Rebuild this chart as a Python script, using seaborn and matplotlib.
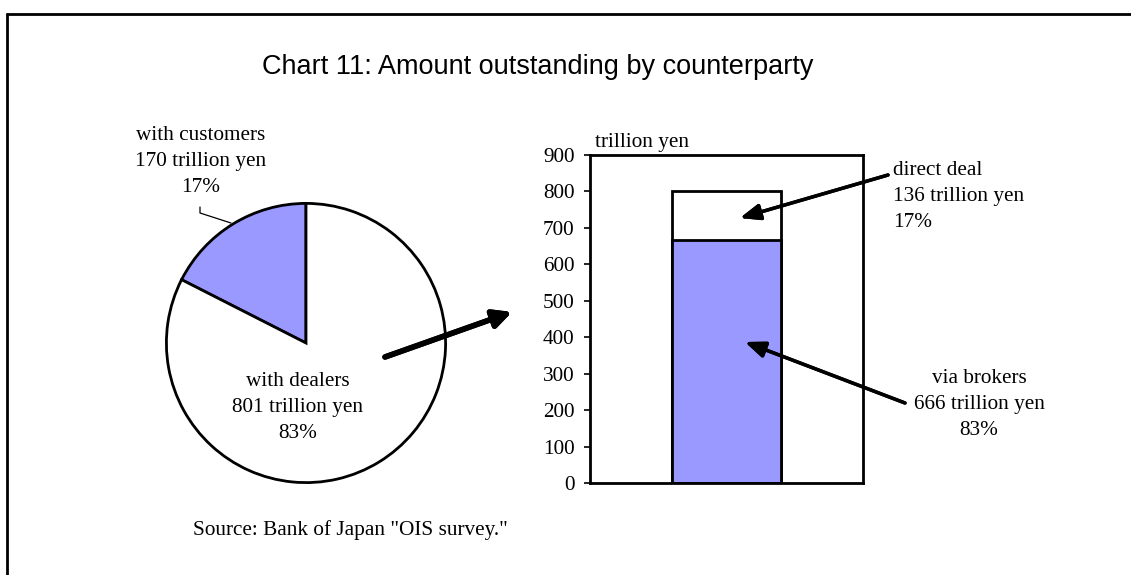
import matplotlib
matplotlib.use("Agg")
import matplotlib.pyplot as plt
import seaborn as sns
import pandas as pd
from matplotlib.lines import Line2D

# data
pie_labels = ["with customers", "with dealers"]
pie_values = [170, 801]
pie_shares = ["17%", "83%"]

bar_labels = ["via brokers", "direct deal"]
bar_values = [666, 136]
bar_shares = ["83%", "17%"]

y_ticks = [0, 100, 200, 300, 400, 500, 600, 700, 800, 900]

title = "Chart 11: Amount outstanding by counterparty"
source = 'Source: Bank of Japan "OIS survey."'
unit = "trillion yen"

LAV = "#9999FF"
W, H = 1131, 575

sns.set_theme(style="white")
plt.rcParams["font.family"] = ["Liberation Serif", "DejaVu Serif"]
plt.rcParams["text.color"] = "black"
FS = 15.3
LS = 1.5


def fx(x):
    return x / W


def fy(y):
    return 1 - y / H


fig = plt.figure(figsize=(W / 100, H / 100), dpi=100)

# frame (top and left edges only)
fig.add_artist(Line2D([fx(7), fx(7)], [fy(14), 0], transform=fig.transFigure, color="black", lw=2))
fig.add_artist(Line2D([fx(7), 1], [fy(14), fy(14)], transform=fig.transFigure, color="black", lw=2))

fig.text(fx(538), fy(67), title, ha="center", va="center", fontsize=19.5,
         family=["Liberation Sans", "DejaVu Sans"])

# pie
ax_pie = fig.add_axes([fx(165), fy(484), 282 / W, 282 / H])
ax_pie.pie(pie_values, startangle=90, counterclock=True, colors=[LAV, "white"],
           wedgeprops=dict(edgecolor="black", linewidth=2))
ax_pie.set_xlim(-1.01, 1.01)
ax_pie.set_ylim(-1.01, 1.01)
ax_pie.set_aspect("auto")
ax_pie.axis("off")

# multi-line text: baseline refers to the last line
cust_txt = f"{pie_labels[0]}\n{pie_values[0]} trillion yen\n{pie_shares[0]}"
deal_txt = f"{pie_labels[1]}\n{pie_values[1]} trillion yen\n{pie_shares[1]}"
fig.text(fx(201), fy(192), cust_txt, ha="center", va="baseline", fontsize=FS,
         multialignment="center", linespacing=LS)
fig.text(fx(298), fy(438), deal_txt, ha="center", va="baseline", fontsize=FS,
         multialignment="center", linespacing=LS)
fig.add_artist(Line2D([fx(200), fx(200), fx(231)], [fy(207), fy(213), fy(223)],
                      transform=fig.transFigure, color="black", lw=0.9))

# big arrow from pie to bar
fig.add_artist(plt.annotate("", xy=(fx(512), fy(312)), xytext=(fx(385), fy(357)),
                            xycoords="figure fraction", textcoords="figure fraction",
                            arrowprops=dict(arrowstyle="-|>,head_length=0.9,head_width=0.45",
                                            color="black", lw=4, shrinkA=0, shrinkB=0)))

# stacked bar
ax_bar = fig.add_axes([fx(590), fy(483), 273 / W, 328 / H])
df = pd.DataFrame({"cat": ["total"], "total": [sum(bar_values)], "brokers": [bar_values[0]]})
sns.barplot(data=df, x="cat", y="total", color="white", width=0.4, ax=ax_bar,
            edgecolor="black", linewidth=2, saturation=1)
sns.barplot(data=df, x="cat", y="brokers", color=LAV, width=0.4, ax=ax_bar,
            edgecolor="black", linewidth=2, saturation=1)
ax_bar.set_xlim(-0.5, 0.5)
ax_bar.set_ylim(0, 900)
ax_bar.set_yticks(y_ticks)
ax_bar.set_yticklabels([str(t) for t in y_ticks], fontsize=FS)
ax_bar.set_xticks([])
ax_bar.set_xlabel("")
ax_bar.set_ylabel("")
for s in ax_bar.spines.values():
    s.set_color("black")
    s.set_linewidth(2)
ax_bar.tick_params(axis="y", left=True, direction="out", length=4, width=1.2, pad=7, colors="black")
fig.text(fx(595), fy(147), unit, ha="left", va="baseline", fontsize=FS)

direct_txt = f"{bar_labels[1]}\n{bar_values[1]} trillion yen\n{bar_shares[1]}"
brokers_txt = f"{bar_labels[0]}\n{bar_values[0]} trillion yen\n{bar_shares[0]}"
fig.text(fx(893), fy(227), direct_txt, ha="left", va="baseline", fontsize=FS,
         multialignment="left", linespacing=LS)
fig.text(fx(979), fy(435), brokers_txt, ha="center", va="baseline", fontsize=FS,
         multialignment="center", linespacing=LS)

arrow_kw = dict(arrowstyle="-|>,head_length=1.0,head_width=0.4", color="black", lw=2.5,
                shrinkA=0, shrinkB=0)
fig.add_artist(plt.annotate("", xy=(fx(740), fy(218)), xytext=(fx(888), fy(175)),
                            xycoords="figure fraction", textcoords="figure fraction",
                            arrowprops=arrow_kw))
fig.add_artist(plt.annotate("", xy=(fx(745), fy(342)), xytext=(fx(905), fy(403)),
                            xycoords="figure fraction", textcoords="figure fraction",
                            arrowprops=arrow_kw))

fig.text(fx(193), fy(535), source, ha="left", va="baseline", fontsize=FS)

fig.savefig("out.png", dpi=100)
